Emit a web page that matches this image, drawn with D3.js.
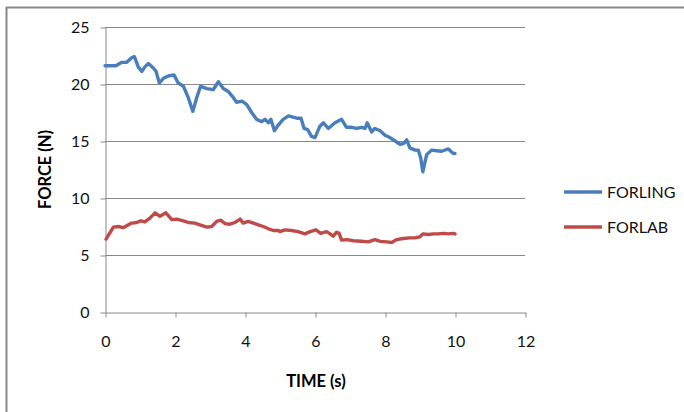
<!DOCTYPE html>
<meta charset="utf-8">
<style>
  body { margin: 0; background: #fff; }
  text { font-family: Lato, "Open Sans", sans-serif; fill: #000; }
  .grid line { stroke: #888; stroke-width: 1; }
  .axis path, .axis line { stroke: #888; }
  .axis text { font-size: 16px; fill: #111; }
  .title { font-size: 16.5px; font-weight: bold; }
  .legend text { font-size: 16px; fill: #111; }
</style>
<svg width="684" height="412"></svg>
<script src="https://cdn.jsdelivr.net/npm/d3@7"></script>
<script>

  // FORLING (blue) readings, time s / force N
  var forlingT = [0, 0.31, 0.48, 0.62, 0.76, 0.84, 0.95, 1.05, 1.14, 1.24, 1.38, 1.46, 1.55, 1.67, 1.81, 1.97,
    2.09, 2.24, 2.38, 2.51, 2.62, 2.73, 2.91, 3.09, 3.24, 3.38, 3.52, 3.67, 3.76, 3.91, 4.05, 4.19, 4.33,
    4.48, 4.57, 4.67, 4.74, 4.84, 4.95, 5.09, 5.24, 5.48, 5.6, 5.69, 5.79, 5.9, 6.0, 6.14, 6.24, 6.38,
    6.57, 6.76, 6.9, 7.05, 7.19, 7.33, 7.43, 7.49, 7.62, 7.71, 7.86, 8.0, 8.14, 8.29, 8.43, 8.54, 8.62,
    8.71, 8.86, 8.95, 9.02, 9.08, 9.19, 9.33, 9.48, 9.62, 9.81, 9.95, 10.0];
  var forlingF = [21.6, 21.6, 21.9, 21.9, 22.3, 22.4, 21.5, 21.1, 21.5, 21.8, 21.4, 21.1, 20.1, 20.5, 20.7, 20.8,
    20.1, 19.8, 18.8, 17.6, 18.8, 19.8, 19.6, 19.5, 20.2, 19.6, 19.35, 18.8, 18.4, 18.5, 18.2, 17.5, 16.9,
    16.7, 16.9, 16.6, 16.9, 15.9, 16.4, 16.9, 17.2, 17.0, 17.0, 16.1, 16.0, 15.4, 15.3, 16.3, 16.6, 16.1,
    16.6, 16.9, 16.2, 16.2, 16.1, 16.2, 16.1, 16.6, 15.8, 16.1, 15.9, 15.5, 15.3, 15.0, 14.7, 14.8, 15.1,
    14.4, 14.2, 14.2, 13.5, 12.3, 13.8, 14.2, 14.15, 14.1, 14.3, 13.9, 13.9];

  // FORLAB (red)
  var forlabT = [0.03, 0.13, 0.24, 0.38, 0.52, 0.67, 0.76, 0.91, 1.02, 1.14, 1.29, 1.43, 1.57, 1.74, 1.91, 2.05,
    2.24, 2.38, 2.57, 2.71, 2.91, 3.05, 3.19, 3.31, 3.43, 3.57, 3.71, 3.86, 3.95, 4.09, 4.24, 4.38, 4.52,
    4.67, 4.81, 4.95, 5.0, 5.14, 5.33, 5.52, 5.71, 5.86, 6.03, 6.16, 6.33, 6.43, 6.52, 6.62, 6.69, 6.76,
    6.91, 7.1, 7.33, 7.52, 7.71, 7.86, 8.05, 8.19, 8.33, 8.52, 8.71, 8.86, 9.0, 9.08, 9.24, 9.38, 9.52,
    9.67, 9.81, 9.95, 10.0];
  var forlabF = [6.4, 6.9, 7.45, 7.5, 7.4, 7.65, 7.8, 7.85, 8.0, 7.9, 8.25, 8.7, 8.4, 8.7, 8.1, 8.15,
    8.0, 7.85, 7.8, 7.65, 7.45, 7.5, 7.95, 8.05, 7.75, 7.7, 7.85, 8.15, 7.8, 7.95, 7.8, 7.65, 7.5,
    7.3, 7.15, 7.15, 7.05, 7.2, 7.15, 7.05, 6.85, 7.05, 7.2, 6.9, 7.05, 6.85, 6.65, 7.0, 6.9, 6.3,
    6.35, 6.25, 6.2, 6.15, 6.35, 6.2, 6.15, 6.1, 6.35, 6.45, 6.5, 6.5, 6.6, 6.85, 6.8, 6.85, 6.85,
    6.9, 6.85, 6.9, 6.85];

  var xTicks = [0, 2, 4, 6, 8, 10, 12];
  var yTicks = [0, 5, 10, 15, 20, 25];

  var series = [
    {name: "FORLING", color: "#4a7ebb", t: forlingT, f: forlingF},
    {name: "FORLAB", color: "#be4b48", t: forlabT, f: forlabF}
  ];

  var svg = d3.select("svg");

  // chart frame
  svg.append("rect")
      .attr("x", 6.5).attr("y", 7.5)
      .attr("width", 720).attr("height", 430)
      .attr("fill", "none").attr("stroke", "#888").attr("stroke-width", 2);

  var x = d3.scaleLinear().domain([0, 12]).range([105, 525]);
  var y = d3.scaleLinear().domain([0, 25]).range([312, 27]);

  // gridlines
  svg.append("g").attr("class", "grid")
    .selectAll("line")
    .data(yTicks.filter(function(d) { return d > 0; }))
    .enter().append("line")
      .attr("x1", x(0)).attr("x2", x(12))
      .attr("y1", function(d) { return Math.round(y(d)) + 0.5; })
      .attr("y2", function(d) { return Math.round(y(d)) + 0.5; });

  svg.append("g").attr("class", "axis")
      .attr("transform", "translate(" + (x(0) + 0.5) + ",0.5)")
      .call(d3.axisLeft(y).tickValues(yTicks).tickSize(5).tickPadding(11).tickSizeOuter(0));

  svg.append("g").attr("class", "axis")
      .attr("transform", "translate(0.5," + (y(0) + 0.5) + ")")
      .call(d3.axisBottom(x).tickValues(xTicks).tickSize(5).tickPadding(18).tickSizeOuter(0));

  svg.append("text").attr("class", "title")
      .attr("transform", "translate(51," + y(12.5) + ") rotate(-90)")
      .attr("text-anchor", "middle")
      .text("FORCE (N)");

  svg.append("text").attr("class", "title")
      .attr("x", 316).attr("y", 387)
      .attr("text-anchor", "middle")
      .text("TIME (s)");

  var line = d3.line()
      .x(function(d) { return x(d[0]); })
      .y(function(d) { return y(d[1]); });

  series.forEach(function(s) {
    svg.append("path")
        .datum(d3.zip(s.t, s.f))
        .attr("fill", "none")
        .attr("stroke", s.color)
        .attr("stroke-width", 3.4)
        .attr("stroke-linejoin", "round")
        .attr("stroke-linecap", "round")
        .attr("d", line);
  });

  var leg = svg.append("g").attr("class", "legend")
    .selectAll("g")
    .data(series)
    .enter().append("g")
      .attr("transform", function(d, i) { return "translate(564," + (192 + i * 35) + ")"; });

  leg.append("line")
      .attr("x1", 0).attr("x2", 38)
      .attr("stroke", function(d) { return d.color; })
      .attr("stroke-width", 3.4);

  leg.append("text")
      .attr("x", 43).attr("dy", "0.35em")
      .text(function(d) { return d.name; });

</script>
